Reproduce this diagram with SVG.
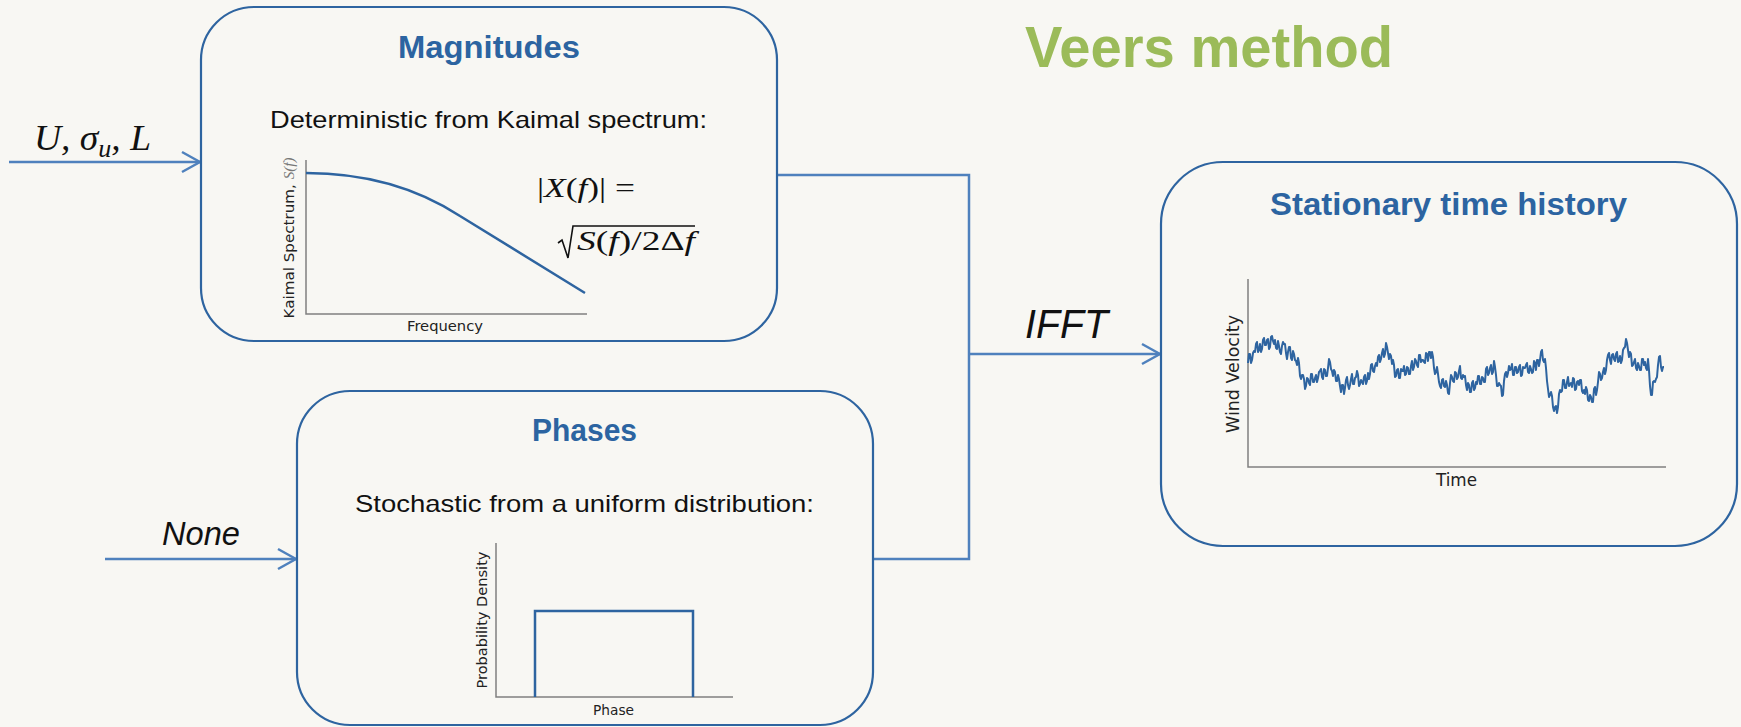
<svg xmlns="http://www.w3.org/2000/svg" width="1741" height="727" viewBox="0 0 1741 727">
<defs>
<style>
.box{fill:none;stroke:#2E64A0;stroke-width:2.2}
.conn{fill:none;stroke:#4F81BD;stroke-width:2.5}
.title{font-family:"Liberation Sans Narrow","Liberation Sans",sans-serif;font-weight:bold;font-size:31px;fill:#2C64A1}
.body{font-family:"Liberation Sans Narrow","Liberation Sans",sans-serif;font-size:24px;fill:#111}
.ital{font-family:"Liberation Sans Narrow","Liberation Sans",sans-serif;font-style:italic;fill:#111}
.math{font-family:"Liberation Serif",serif;fill:#111}
.ax{fill:none;stroke:#808080;stroke-width:1.5}
.axl{font-family:"DejaVu Sans",sans-serif;font-size:14.5px;fill:#222}
.curve{fill:none;stroke:#2E64A0;stroke-width:2.5}
.sig{fill:none;stroke:#2E64A0;stroke-width:2;stroke-linejoin:round}
</style>
<marker id="arr" markerUnits="userSpaceOnUse" viewBox="-20 -12 22 24" markerWidth="22" markerHeight="24" refX="0" refY="0" orient="auto">
<path d="M-18,-10 L0,0 L-18,10" fill="none" stroke="#4F81BD" stroke-width="2.5"/>
</marker>
</defs>
<rect x="0" y="0" width="1741" height="727" fill="#F8F7F3"/>

<text x="1025" y="67" font-family="'Liberation Sans Narrow','Liberation Sans',sans-serif" font-weight="bold" font-size="58" fill="#9BBB59" textLength="368" lengthAdjust="spacingAndGlyphs">Veers method</text>

<g id="connectors">
<line class="conn" x1="9" y1="162" x2="200" y2="162" marker-end="url(#arr)"/>
<line class="conn" x1="105" y1="559" x2="296" y2="559" marker-end="url(#arr)"/>
<polyline class="conn" points="777,175 969,175 969,559 873,559"/>
<line class="conn" x1="969" y1="354" x2="1160" y2="354" marker-end="url(#arr)"/>
<text class="math" x="34" y="150" font-size="36" font-style="italic" textLength="117" lengthAdjust="spacingAndGlyphs">U, σ<tspan font-size="25" dy="7">u</tspan><tspan dy="-7">, L</tspan></text>
<text class="ital" x="162" y="545" font-size="33" textLength="78" lengthAdjust="spacingAndGlyphs">None</text>
<text class="ital" x="1025" y="338" font-size="40" textLength="83" lengthAdjust="spacingAndGlyphs">IFFT</text>
</g>

<g id="magnitudes">
<rect class="box" x="201" y="7" width="576" height="334" rx="53" ry="53"/>
<text class="title" x="398" y="58" textLength="182" lengthAdjust="spacingAndGlyphs">Magnitudes</text>
<text class="body" x="270" y="128" textLength="437" lengthAdjust="spacingAndGlyphs">Deterministic from Kaimal spectrum:</text>
<polyline class="ax" points="306,160 306,314 587,314"/>
<path class="curve" d="M306,173 C370,173 420,190 460,216 L585,293"/>
<text class="axl" transform="translate(294,238) rotate(-90)" x="-80.5" y="0" textLength="161" lengthAdjust="spacingAndGlyphs">Kaimal Spectrum, <tspan font-family="'Liberation Serif',serif" font-style="italic" fill="#777">S(f)</tspan></text>
<text class="axl" x="407" y="331" textLength="76" lengthAdjust="spacingAndGlyphs">Frequency</text>
<text class="math" x="537" y="197" font-size="27" textLength="98" lengthAdjust="spacingAndGlyphs">|<tspan font-style="italic">X</tspan>(<tspan font-style="italic">f</tspan>)| =</text>
<polyline points="558,243 562,240 568,258 573,226 695,226" fill="none" stroke="#111" stroke-width="1.6"/>
<text class="math" x="577" y="250" font-size="27" textLength="118" lengthAdjust="spacingAndGlyphs"><tspan font-style="italic">S</tspan>(<tspan font-style="italic">f</tspan>)/2Δ<tspan font-style="italic">f</tspan></text>
</g>

<g id="phases">
<rect class="box" x="297" y="391" width="576" height="334" rx="53" ry="53"/>
<text class="title" x="532" y="441" textLength="105" lengthAdjust="spacingAndGlyphs">Phases</text>
<text class="body" x="355" y="512" textLength="459" lengthAdjust="spacingAndGlyphs">Stochastic from a uniform distribution:</text>
<polyline class="ax" points="496,543 496,697 733,697"/>
<polyline class="curve" points="535,697 535,611 693,611 693,697"/>
<text class="axl" transform="translate(487,620) rotate(-90)" x="-68.5" y="0" textLength="137" lengthAdjust="spacingAndGlyphs">Probability Density</text>
<text class="axl" x="593" y="715" textLength="41" lengthAdjust="spacingAndGlyphs">Phase</text>
</g>

<g id="stationary">
<rect class="box" x="1161" y="162" width="576" height="384" rx="62" ry="62"/>
<text class="title" x="1270" y="215" textLength="357" lengthAdjust="spacingAndGlyphs">Stationary time history</text>
<polyline class="ax" points="1248,279 1248,467 1666,467"/>
<polyline class="sig" points="1248,363 1249,354 1250,354 1251,363 1252,360 1253,353 1254,351 1255,352 1256,344 1257,342 1258,352 1259,350 1260,344 1261,352 1262,349 1263,340 1264,338 1265,345 1266,345 1267,340 1268,339 1269,349 1270,347 1271,337 1272,336 1273,341 1274,344 1275,340 1276,348 1277,349 1278,341 1279,346 1280,352 1281,354 1282,346 1283,342 1284,344 1285,344 1286,353 1287,359 1288,352 1289,347 1290,347 1291,358 1292,360 1293,351 1294,354 1295,360 1296,361 1297,365 1298,358 1299,363 1300,376 1301,379 1302,375 1303,375 1304,379 1305,389 1306,386 1307,378 1308,379 1309,383 1310,385 1311,374 1312,374 1313,382 1314,382 1315,378 1316,375 1317,382 1318,378 1319,372 1320,371 1321,369 1322,377 1323,379 1324,369 1325,370 1326,376 1327,376 1328,368 1329,359 1330,362 1331,369 1332,371 1333,376 1334,370 1335,372 1336,381 1337,381 1338,375 1339,379 1340,386 1341,392 1342,385 1343,385 1344,394 1345,388 1346,380 1347,377 1348,385 1349,389 1350,385 1351,379 1352,374 1353,384 1354,384 1355,378 1356,377 1357,371 1358,375 1359,386 1360,384 1361,380 1362,382 1363,384 1364,377 1365,375 1366,384 1367,381 1368,373 1369,379 1370,374 1371,365 1372,364 1373,371 1374,372 1375,366 1376,363 1377,366 1378,357 1379,355 1380,362 1381,359 1382,353 1383,349 1384,357 1385,354 1386,343 1387,347 1388,353 1389,359 1390,354 1391,356 1392,364 1393,360 1394,365 1395,377 1396,376 1397,370 1398,369 1399,378 1400,378 1401,369 1402,371 1403,371 1404,366 1405,375 1406,374 1407,367 1408,368 1409,374 1410,374 1411,366 1412,361 1413,370 1414,367 1415,359 1416,361 1417,365 1418,367 1419,355 1420,355 1421,362 1422,360 1423,360 1424,362 1425,363 1426,353 1427,354 1428,361 1429,352 1430,352 1431,358 1432,352 1433,357 1434,368 1435,374 1436,372 1437,367 1438,374 1439,382 1440,386 1441,388 1442,380 1443,379 1444,386 1445,387 1446,381 1447,385 1448,393 1449,394 1450,383 1451,375 1452,377 1453,381 1454,382 1455,372 1456,373 1457,379 1458,377 1459,371 1460,366 1461,378 1462,379 1463,375 1464,377 1465,376 1466,385 1467,390 1468,383 1469,385 1470,392 1471,392 1472,383 1473,381 1474,390 1475,388 1476,382 1477,384 1478,376 1479,376 1480,384 1481,384 1482,377 1483,378 1484,382 1485,382 1486,369 1487,367 1488,375 1489,373 1490,368 1491,365 1492,374 1493,372 1494,361 1495,367 1496,375 1497,386 1498,386 1499,383 1500,385 1501,386 1502,396 1503,395 1504,381 1505,374 1506,372 1507,377 1508,373 1509,366 1510,370 1511,369 1512,364 1513,375 1514,375 1515,367 1516,367 1517,373 1518,372 1519,367 1520,365 1521,376 1522,375 1523,367 1524,368 1525,368 1526,365 1527,363 1528,372 1529,373 1530,366 1531,369 1532,373 1533,372 1534,361 1535,363 1536,370 1537,360 1538,360 1539,366 1540,360 1541,352 1542,350 1543,360 1544,362 1545,359 1546,368 1547,381 1548,389 1549,397 1550,395 1551,392 1552,396 1553,407 1554,411 1555,407 1556,406 1557,413 1558,407 1559,394 1560,390 1561,392 1562,391 1563,380 1564,380 1565,388 1566,388 1567,382 1568,377 1569,386 1570,384 1571,383 1572,387 1573,378 1574,379 1575,390 1576,389 1577,382 1578,381 1579,385 1580,380 1581,380 1582,391 1583,393 1584,390 1585,394 1586,387 1587,390 1588,400 1589,401 1590,395 1591,397 1592,402 1593,402 1594,389 1595,387 1596,395 1597,390 1598,382 1599,372 1600,374 1601,380 1602,378 1603,372 1604,368 1605,374 1606,370 1607,360 1608,355 1609,353 1610,360 1611,364 1612,355 1613,354 1614,359 1615,361 1616,354 1617,352 1618,362 1619,361 1620,356 1621,363 1622,360 1623,350 1624,348 1625,347 1626,339 1627,343 1628,350 1629,357 1630,352 1631,354 1632,366 1633,365 1634,362 1635,359 1636,368 1637,370 1638,363 1639,366 1640,370 1641,370 1642,359 1643,359 1644,365 1645,362 1646,368 1647,370 1648,359 1649,370 1650,386 1651,395 1652,395 1653,382 1654,381 1655,382 1656,379 1657,377 1658,365 1659,357 1660,356 1661,367 1662,371 1663,367 1664,367"/>
<text class="axl" transform="translate(1238.5,374) rotate(-90)" x="-59" y="0" style="font-size:17px" textLength="118" lengthAdjust="spacingAndGlyphs">Wind Velocity</text>
<text class="axl" x="1436" y="486" style="font-size:17px" textLength="41" lengthAdjust="spacingAndGlyphs">Time</text>
</g>
</svg>
